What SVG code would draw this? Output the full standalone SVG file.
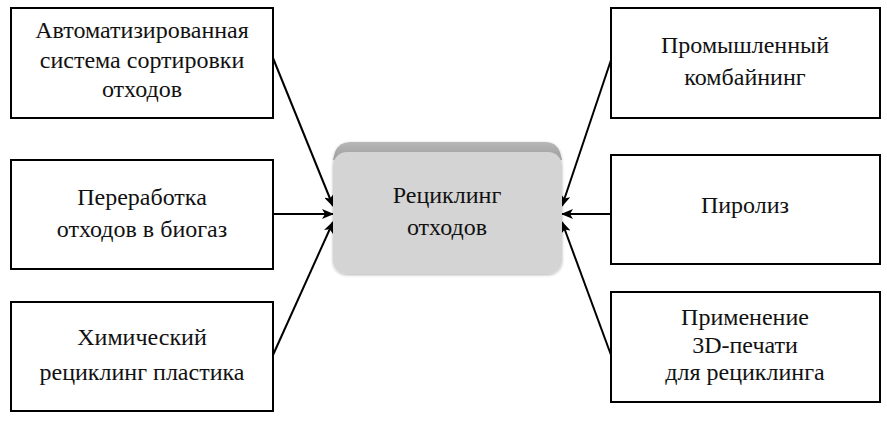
<svg xmlns="http://www.w3.org/2000/svg" width="887" height="421" viewBox="0 0 887 421" xml:lang="ru">
<defs>
<marker id="ah" markerWidth="12" markerHeight="10" refX="11" refY="5" orient="auto" markerUnits="userSpaceOnUse">
<path d="M0,0 L12,5 L0,10 L3,5 Z" fill="#000"/>
</marker>
<linearGradient id="topg" x1="0" y1="0" x2="0" y2="1">
<stop offset="0" stop-color="#b8b8b8"/>
<stop offset="1" stop-color="#9c9c9c"/>
</linearGradient>
<filter id="sh" x="-10%" y="-10%" width="120%" height="120%">
<feGaussianBlur in="SourceAlpha" stdDeviation="1.5"/>
<feOffset dx="0" dy="1"/>
<feComponentTransfer><feFuncA type="linear" slope="0.3"/></feComponentTransfer>
<feMerge><feMergeNode/><feMergeNode in="SourceGraphic"/></feMerge>
</filter>
</defs>
<g id="connectors" stroke="#000" stroke-width="2" fill="none" marker-end="url(#ah)">
<line x1="273" y1="58" x2="333" y2="206"/>
<line x1="273" y1="214" x2="333" y2="214"/>
<line x1="273" y1="355" x2="333" y2="222"/>
<line x1="611" y1="60" x2="562" y2="206"/>
<line x1="611" y1="214" x2="562" y2="214"/>
<line x1="611" y1="355" x2="562" y2="222"/>
</g>
<g id="center">
<g filter="url(#sh)">
<path d="M350,142 H546 Q556,142 560,152 L562,160 H333 L335,152 Q339,142 350,142 Z" fill="url(#topg)"/>
<rect x="333" y="152" width="229" height="122" rx="14" fill="#d4d4d4"/>
</g>
<text font-family="'Liberation Serif', 'Times New Roman', serif" font-size="24" fill="#111" text-anchor="middle" x="447" y="203">Рециклинг</text>
<text font-family="'Liberation Serif', 'Times New Roman', serif" font-size="24" fill="#111" text-anchor="middle" x="447" y="235">отходов</text>
</g>
<g id="n1">
<rect x="11" y="8" width="262" height="110" fill="#fff" stroke="#000" stroke-width="2"/>
<text font-family="'Liberation Serif', 'Times New Roman', serif" font-size="24" fill="#111" text-anchor="middle" x="142" y="38">Автоматизированная</text>
<text font-family="'Liberation Serif', 'Times New Roman', serif" font-size="24" fill="#111" text-anchor="middle" x="142" y="68">система сортировки</text>
<text font-family="'Liberation Serif', 'Times New Roman', serif" font-size="24" fill="#111" text-anchor="middle" x="142" y="97">отходов</text>
</g>
<g id="n2">
<rect x="11" y="160" width="262" height="109" fill="#fff" stroke="#000" stroke-width="2"/>
<text font-family="'Liberation Serif', 'Times New Roman', serif" font-size="24" fill="#111" text-anchor="middle" x="142" y="205">Переработка</text>
<text font-family="'Liberation Serif', 'Times New Roman', serif" font-size="24" fill="#111" text-anchor="middle" x="142" y="237">отходов в биогаз</text>
</g>
<g id="n3">
<rect x="11" y="302" width="262" height="109" fill="#fff" stroke="#000" stroke-width="2"/>
<text font-family="'Liberation Serif', 'Times New Roman', serif" font-size="24" fill="#111" text-anchor="middle" x="142" y="345">Химический</text>
<text font-family="'Liberation Serif', 'Times New Roman', serif" font-size="24" fill="#111" text-anchor="middle" x="142" y="380">рециклинг пластика</text>
</g>
<g id="n4">
<rect x="611" y="8" width="269" height="110" fill="#fff" stroke="#000" stroke-width="2"/>
<text font-family="'Liberation Serif', 'Times New Roman', serif" font-size="24" fill="#111" text-anchor="middle" x="745" y="53">Промышленный</text>
<text font-family="'Liberation Serif', 'Times New Roman', serif" font-size="24" fill="#111" text-anchor="middle" x="745" y="85">комбайнинг</text>
</g>
<g id="n5">
<rect x="611" y="155" width="269" height="109" fill="#fff" stroke="#000" stroke-width="2"/>
<text font-family="'Liberation Serif', 'Times New Roman', serif" font-size="24" fill="#111" text-anchor="middle" x="745" y="213">Пиролиз</text>
</g>
<g id="n6">
<rect x="611" y="292" width="269" height="110" fill="#fff" stroke="#000" stroke-width="2"/>
<text font-family="'Liberation Serif', 'Times New Roman', serif" font-size="24" fill="#111" text-anchor="middle" x="745" y="325">Применение</text>
<text font-family="'Liberation Serif', 'Times New Roman', serif" font-size="24" fill="#111" text-anchor="middle" x="745" y="353">3D-печати</text>
<text font-family="'Liberation Serif', 'Times New Roman', serif" font-size="24" fill="#111" text-anchor="middle" x="745" y="380">для рециклинга</text>
</g>
</svg>
